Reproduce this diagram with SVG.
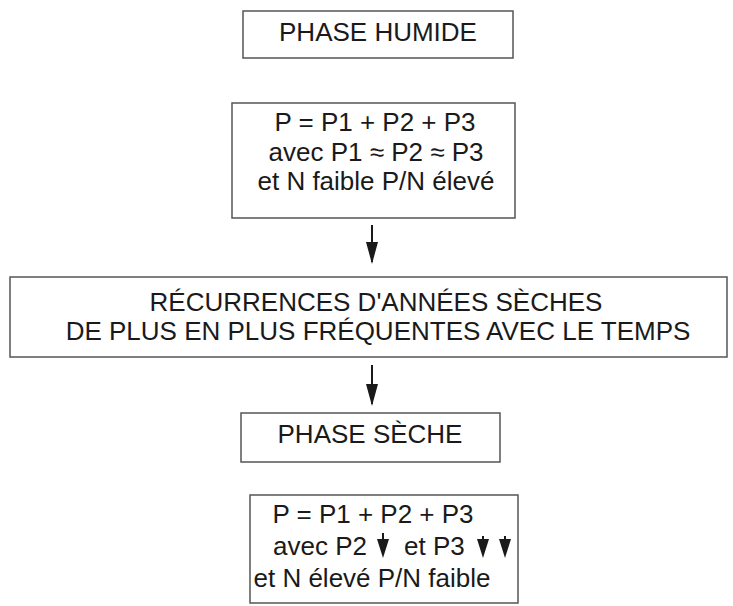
<svg xmlns="http://www.w3.org/2000/svg" width="733" height="606" viewBox="0 0 733 606">
<style>
.box{fill:#fff;stroke:#555;stroke-width:1.5}
.t{font-family:"Liberation Sans",Arial,sans-serif;font-size:26px;fill:#1a1a1a;text-anchor:middle}
.ts{font-family:"Liberation Sans",Arial,sans-serif;font-size:26px;fill:#1a1a1a}
.conn{stroke:#1a1a1a;stroke-width:2;fill:none}
.mk{fill:#1a1a1a}
</style>
<defs>
<marker id="ah" markerWidth="22" markerHeight="12" refX="20" refY="6" orient="auto" markerUnits="userSpaceOnUse" viewBox="0 0 22 12">
<path d="M0,0 L22,6 L0,12 Z" fill="#1a1a1a"/>
</marker>
</defs>
<rect width="733" height="606" fill="#fff"/>
<g id="phase-humide">
<rect class="box" x="243" y="11" width="270" height="47"/>
<text class="t" x="378" y="41">PHASE HUMIDE</text>
</g>
<g id="humide-eq">
<rect class="box" x="232" y="103" width="283" height="115"/>
<text class="t" x="375" y="131">P = P1 + P2 + P3</text>
<text class="t" x="376" y="161">avec P1 ≈ P2 ≈ P3</text>
<text class="t" x="376" y="190">et N faible P/N élevé</text>
</g>
<g id="recurrences">
<rect class="box" x="10" y="277" width="717" height="80"/>
<text class="t" x="376" y="311">RÉCURRENCES D'ANNÉES SÈCHES</text>
<text class="t" x="378" y="340">DE PLUS EN PLUS FRÉQUENTES AVEC LE TEMPS</text>
</g>
<g id="phase-seche">
<rect class="box" x="241" y="413" width="259" height="49"/>
<text class="t" x="370" y="443">PHASE SÈCHE</text>
</g>
<g id="seche-eq">
<rect class="box" x="250" y="495" width="268" height="108"/>
<text class="t" x="373" y="523">P = P1 + P2 + P3</text>
<text class="ts" x="273" y="555">avec P2</text>
<path class="mk" d="M382,533 L384,533 L384,539 L389,539 L383,558 L377,539 L382,539 Z"/>
<text class="ts" x="404" y="555">et P3</text>
<path class="mk" d="M482,536 L484,536 L484,539 L489,539 L483,558 L477,539 L482,539 Z"/>
<path class="mk" d="M504,536 L506,536 L506,539 L511,539 L505,558 L499,539 L504,539 Z"/>
<text class="t" x="372" y="587">et N élevé P/N faible</text>
</g>
<g id="connectors">
<line class="conn" x1="372" y1="225" x2="372" y2="262" marker-end="url(#ah)"/>
<line class="conn" x1="372" y1="365" x2="372" y2="404" marker-end="url(#ah)"/>
</g>
</svg>
